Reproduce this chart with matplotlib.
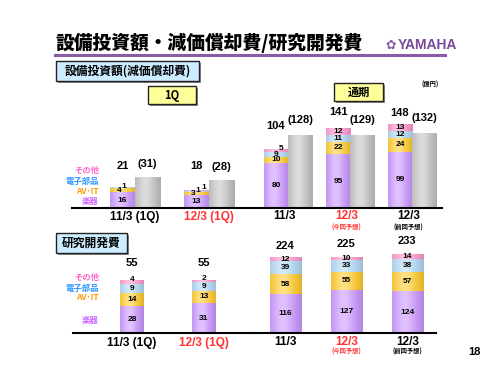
import numpy as np
import matplotlib
matplotlib.use("Agg")
import matplotlib.pyplot as plt
from matplotlib.patches import Rectangle

plt.rcParams['font.family'] = ['Noto Sans CJK JP', 'DejaVu Sans']

# -----------------------------
# Data
# -----------------------------
segments = ["楽器", "AV･IT", "電子部品", "その他"]
seg_colors = ["#cc99ff", "#ffcc33", "#b3d9f5", "#ff99cc"]
label_colors = ["#cc66ff", "#ff9900", "#3399ff", "#ff66cc"]

capex_q_periods = ["11/3 (1Q)", "12/3 (1Q)"]
capex_q = [[16, 13], [4, 3], [1, 1], [0, 1]]
capex_q_total = [21, 18]
dep_q = [31, 28]

capex_y_periods = ["11/3", "12/3", "12/3"]
capex_y_notes = ["", "(今回予想)", "(前回予想)"]
capex_y = [[80, 95, 99], [10, 22, 24], [9, 11, 12], [5, 12, 13]]
capex_y_total = [104, 141, 148]
dep_y = [128, 129, 132]

rd_q_periods = ["11/3 (1Q)", "12/3 (1Q)"]
rd_q = [[28, 31], [14, 13], [9, 9], [4, 2]]
rd_q_total = [55, 55]

rd_y_periods = ["11/3", "12/3", "12/3"]
rd_y_notes = ["", "(今回予想)", "(前回予想)"]
rd_y = [[116, 127, 124], [58, 55, 57], [39, 33, 38], [12, 10, 14]]
rd_y_total = [224, 225, 233]

period_colors_q = ["black", "#ff3333"]
period_colors_y = ["black", "#ff3333", "black"]

# -----------------------------
# Figure in pixel units
# -----------------------------
W, H = 500, 375
fig = plt.figure(figsize=(W / 100, H / 100), dpi=100)


def rect(x0, y0, x1, y1):
    return [x0 / W, 1 - y1 / H, (x1 - x0) / W, (y1 - y0) / H]


def ftext(x, y, s, **kw):
    kw.setdefault("ha", "left")
    kw.setdefault("va", "center")
    fig.text(x / W, 1 - y / H, s, **kw)


def box(x0, y0, x1, y1, s, fc, size):
    fig.patches.append(Rectangle((x0 / W + 0.004, 1 - y1 / H - 0.006), (x1 - x0) / W, (y1 - y0) / H,
                                 transform=fig.transFigure, fc="#888888", ec="none"))
    fig.patches.append(Rectangle((x0 / W, 1 - y1 / H), (x1 - x0) / W, (y1 - y0) / H,
                                 transform=fig.transFigure, fc=fc, ec="#222222", lw=1.0))
    fig.text((x0 + x1) / 2 / W, 1 - (y0 + y1) / 2 / H, s, ha="center", va="center",
             fontsize=size, fontweight="bold")


def grad_bar(ax, x, bottom, h, w, color):
    b = ax.bar(x, h, w, bottom=bottom, color=color, edgecolor="none")[0]
    c = np.array(matplotlib.colors.to_rgb(color))
    t = np.linspace(0, 1, 32)
    glow = 0.4 * np.exp(-((t - 0.4) / 0.3) ** 2)
    shade = 1 - 0.12 * ((t - 0.4) / 0.6) ** 2
    img = (c[None, :] + (1 - c[None, :]) * glow[:, None]) * shade[:, None]
    img = np.clip(img, 0, 1)[None, :, :]
    im = ax.imshow(img, extent=[x - w / 2, x + w / 2, bottom, bottom + h],
                   aspect="auto", origin="lower", zorder=2, interpolation="bilinear")
    im.set_clip_path(b)
    return b


def setup(ax, xlim, ylim):
    ax.set_xlim(*xlim)
    ax.set_ylim(*ylim)
    for s in ["top", "left", "right"]:
        ax.spines[s].set_visible(False)
    ax.spines["bottom"].set_linewidth(1.5)
    ax.spines["bottom"].set_zorder(6)
    ax.set_yticks([])
    ax.set_xticks([])
    ax.patch.set_alpha(0)


def draw_panel(ax, data, totals, w, total_off, dep=None, dep_off=15,
               small_lim=0, small_dx=None):
    n = len(totals)
    x = np.arange(n)
    for i in range(n):
        bottom = 0
        k = 0
        for j, seg in enumerate(data):
            v = seg[i]
            if v > 0:
                grad_bar(ax, x[i], bottom, v, w, seg_colors[j])
                dx, dy = 0, 0
                if v < small_lim and small_dx is not None:
                    dx, dy = small_dx[k]
                    k += 1
                ax.annotate(str(v), (x[i], bottom + v / 2), xytext=(dx * 0.72, dy * 0.72),
                            textcoords="offset points", ha="center", va="center",
                            fontsize=6, fontweight="bold", family="Liberation Sans",
                            zorder=5)
            bottom += v
        ax.annotate(str(totals[i]), (x[i], bottom), xytext=(0, total_off[i] * 0.72),
                    textcoords="offset points", ha="center", va="center",
                    fontsize=8, fontweight="bold", family="Liberation Sans")
        if dep is not None:
            grad_bar(ax, x[i] + w, 0, dep[i], w, "#c4c4c4")
            ax.annotate("(%d)" % dep[i], (x[i] + w, dep[i]), xytext=(0, dep_off * 0.72),
                        textcoords="offset points", ha="center", va="center",
                        fontsize=8, fontweight="bold", family="Liberation Sans")


def xlabels(ax, pos, labels, colors, notes=None, dy=8, dy2=19):
    tr = ax.get_xaxis_transform()
    for i, (p, s) in enumerate(zip(pos, labels)):
        ax.annotate(s, (p, 0), xycoords=tr, xytext=(0, -dy * 0.72), textcoords="offset points",
                    ha="center", va="center", fontsize=8.5, fontweight="bold",
                    family="Liberation Sans", color=colors[i])
        if notes is not None and notes[i]:
            ax.annotate(notes[i], (p, 0), xycoords=tr, xytext=(0, -dy2 * 0.72),
                        textcoords="offset points", ha="center", va="center",
                        fontsize=4.5, fontweight="bold", color=colors[i])


# -----------------------------
# Header
# -----------------------------
ftext(56, 43, "設備投資額・減価償却費/研究開発費", fontsize=13.5, fontweight="heavy")
fig.add_artist(plt.Line2D([55 / W, 445 / W], [1 - 54.5 / H, 1 - 54.5 / H], color="#8a5aa8", lw=2.2))
ftext(391, 45, "✿", fontsize=9, color="#8a5aa8", family="DejaVu Sans", ha="center")
ftext(398, 45, "YAMAHA", fontsize=10, fontweight="bold", color="#7a4a9a", family="Liberation Sans")

box(56, 61, 199, 81, "設備投資額(減価償却費)", "#ccecff", 8.5)
box(148, 86, 196, 104, "1Q", "#ffff99", 8)
box(334, 83, 383, 101, "通期", "#ffff99", 8)
ftext(430, 84, "(億円)", fontsize=4.5, fontweight="bold", ha="center")
box(56, 233, 127, 253, "研究開発費", "#ccecff", 8.5)
ftext(474, 352, "18", fontsize=8, fontweight="bold", family="Liberation Sans", ha="center")

# legend labels
for y, j in zip([170, 181, 191, 202], [3, 2, 1, 0]):
    ftext(99, y, segments[j], fontsize=6, fontweight="bold", color=label_colors[j], ha="right")
for y, j in zip([277, 288, 298, 321], [3, 2, 1, 0]):
    ftext(99, y, segments[j], fontsize=6, fontweight="bold", color=label_colors[j], ha="right")

# -----------------------------
# Capex 1Q
# -----------------------------
ax1 = fig.add_axes(rect(72, 108, 250, 208))
setup(ax1, (-0.68, 1.725), (0, 100))
w1 = 0.34
draw_panel(ax1, capex_q, capex_q_total, w1, [21, 24], dep=dep_q, dep_off=13,
           small_lim=5, small_dx=[(-3.5, 0), (1.5, 1), (7.5, 3)])
xlabels(ax1, np.arange(2) + w1 / 2, capex_q_periods, period_colors_q, dy=9)

# -----------------------------
# Capex full year
# -----------------------------
ax2 = fig.add_axes(rect(250, 108, 442, 208))
setup(ax2, (-0.42, 2.677), (0, 176))
w2 = 0.39
draw_panel(ax2, capex_y, capex_y_total, w2, [23, 16, 11], dep=dep_y, dep_off=15,
           small_lim=6, small_dx=[(5, 2)])
xlabels(ax2, np.arange(3) + w2 * 0.35, capex_y_periods, period_colors_y, capex_y_notes,
        dy=8, dy2=19)

# -----------------------------
# R&D 1Q
# -----------------------------
ax3 = fig.add_axes(rect(73, 253, 250, 333))
setup(ax3, (-0.82, 1.64), (0, 83))
draw_panel(ax3, rd_q, rd_q_total, 0.333, [17, 17], small_lim=5, small_dx=[(0, 2), (0, 3)])
xlabels(ax3, np.arange(2), rd_q_periods, period_colors_q, dy=10)

# -----------------------------
# R&D full year
# -----------------------------
ax4 = fig.add_axes(rect(250, 253, 436, 333))
setup(ax4, (-0.58, 2.47), (0, 237))
draw_panel(ax4, rd_y, rd_y_total, 0.51, [11, 13, 13])
xlabels(ax4, np.arange(3), rd_y_periods, period_colors_y, rd_y_notes, dy=9, dy2=18)

fig.savefig("out.png", dpi=100)
